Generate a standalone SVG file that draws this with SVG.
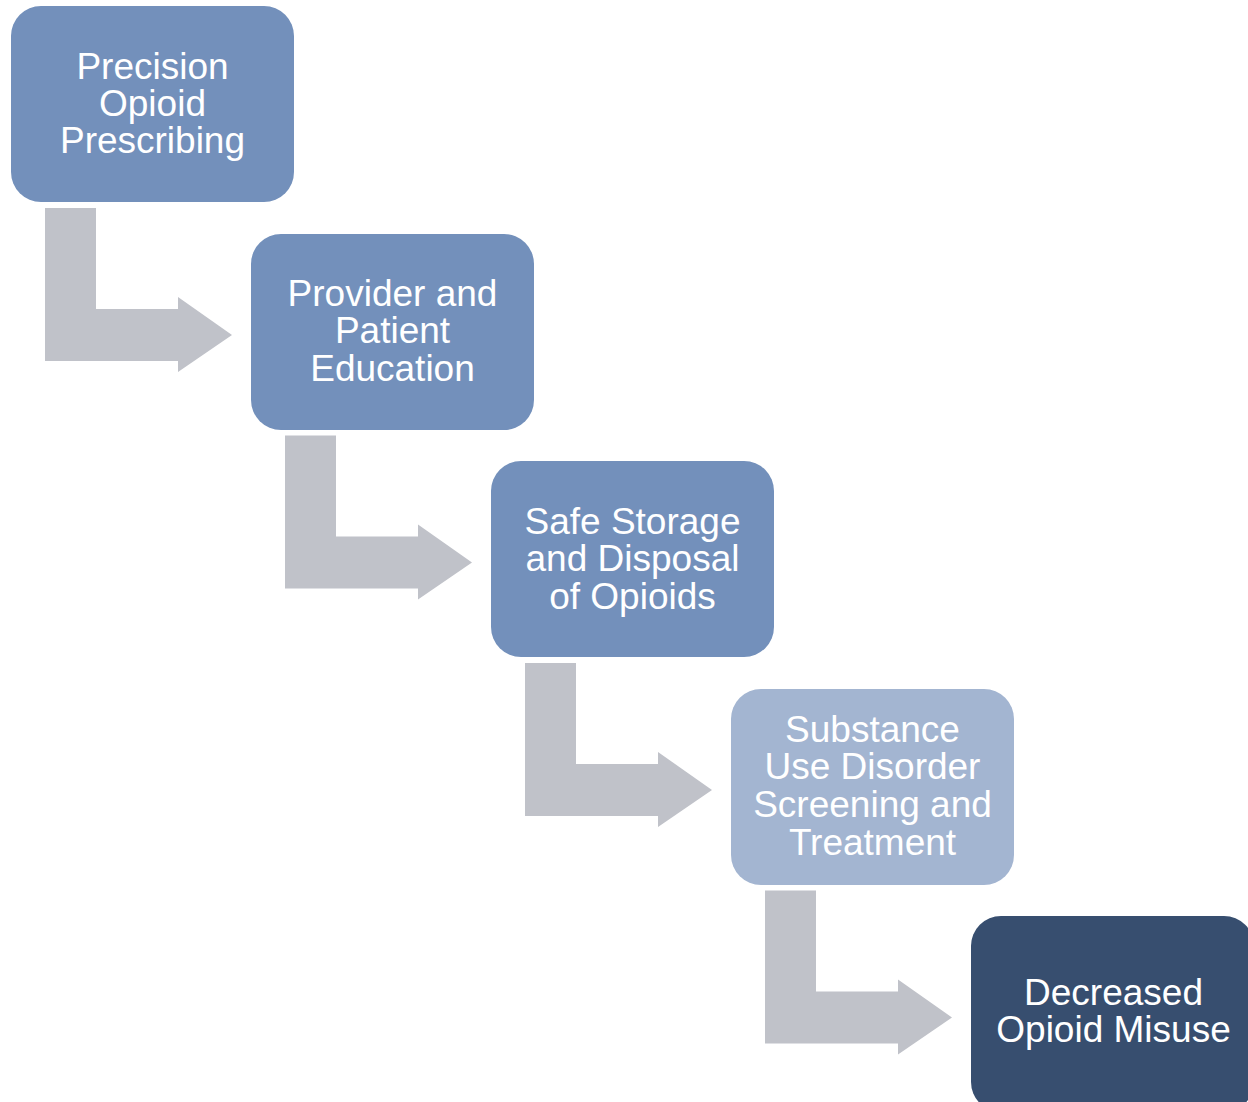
<svg xmlns="http://www.w3.org/2000/svg" width="1248" height="1102" viewBox="0 0 1248 1102">
<style>
.t{font-family:"Liberation Sans",Arial,sans-serif;font-size:37px;fill:#ffffff;text-anchor:middle}
.a{fill:#C0C2C9}
</style>
<defs>
<path id="arr" d="M45,208 H96 V309 H178 V297 L232,335 L178,372 V361 H45 Z"/>
</defs>
<rect width="1248" height="1102" fill="#ffffff"/>
<g id="connectors">
<use href="#arr" class="a"/>
<use href="#arr" class="a" transform="translate(240,227.5)"/>
<use href="#arr" class="a" transform="translate(480,455)"/>
<use href="#arr" class="a" transform="translate(720,682.5)"/>
</g>
<g id="n1">
<rect x="11" y="6" width="283" height="196" rx="30" fill="#7390BB"/>
<text class="t" x="152.5" y="79">Precision</text>
<text class="t" x="152.5" y="116">Opioid</text>
<text class="t" x="152.5" y="153">Prescribing</text>
</g>
<g id="n2">
<rect x="251" y="234" width="283" height="196" rx="30" fill="#7390BB"/>
<text class="t" x="392.5" y="306">Provider and</text>
<text class="t" x="392.5" y="343">Patient</text>
<text class="t" x="392.5" y="381">Education</text>
</g>
<g id="n3">
<rect x="491" y="461" width="283" height="196" rx="30" fill="#7390BB"/>
<text class="t" x="632.5" y="534">Safe Storage</text>
<text class="t" x="632.5" y="571">and Disposal</text>
<text class="t" x="632.5" y="609">of Opioids</text>
</g>
<g id="n4">
<rect x="731" y="689" width="283" height="196" rx="30" fill="#A3B5D1"/>
<text class="t" x="872.5" y="742">Substance</text>
<text class="t" x="872.5" y="779">Use Disorder</text>
<text class="t" x="872.5" y="817">Screening and</text>
<text class="t" x="872.5" y="855">Treatment</text>
</g>
<g id="n5">
<rect x="971" y="916" width="283" height="196" rx="30" fill="#374E6F"/>
<text class="t" x="1113.5" y="1005">Decreased</text>
<text class="t" x="1113.5" y="1042">Opioid Misuse</text>
</g>
</svg>
